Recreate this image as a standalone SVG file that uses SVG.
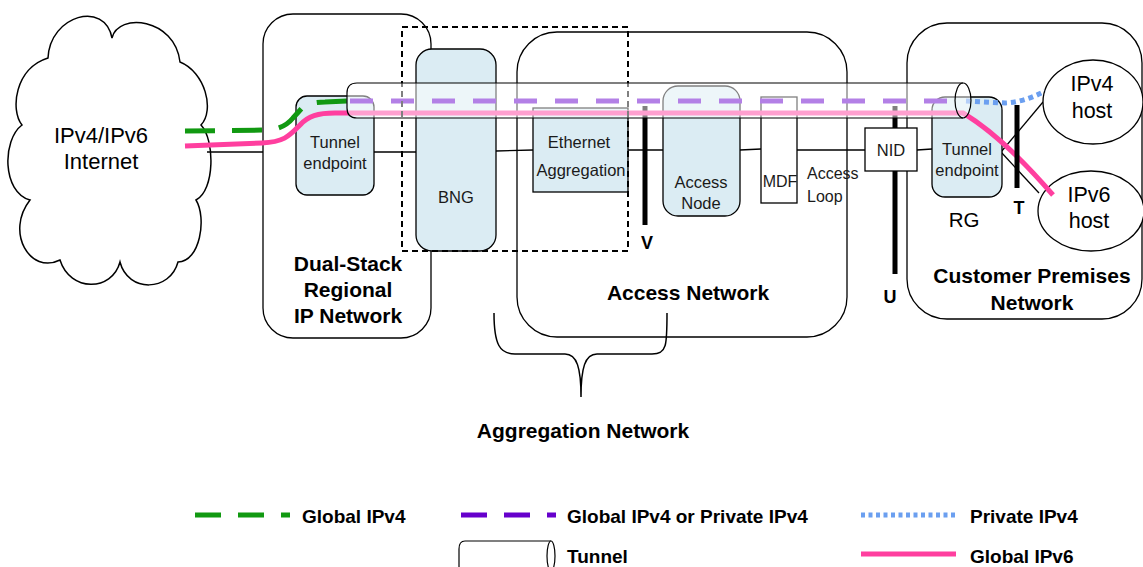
<svg xmlns="http://www.w3.org/2000/svg" width="1143" height="567" viewBox="0 0 1143 567">
  <style>
    .area { fill: none; stroke: #000; stroke-width: 1.3; }
    .dev { fill: #dbecf3; stroke: #000; stroke-width: 1.3; }
    .box { fill: #fff; stroke: #000; stroke-width: 1.3; }
    .wire { fill: none; stroke: #000; stroke-width: 1.3; }
    .bar { stroke: #000; stroke-width: 5; }
    .lbl { font-family: "Liberation Sans", Arial, sans-serif; font-size: 16.5px; fill: #1a1a1a; text-anchor: middle; }
    .big { font-family: "Liberation Sans", Arial, sans-serif; font-size: 21.5px; fill: #000; text-anchor: middle; }
    .hd { font-family: "Liberation Sans", Arial, sans-serif; font-size: 21px; font-weight: bold; fill: #000; text-anchor: middle; }
    .ref { font-family: "Liberation Sans", Arial, sans-serif; font-size: 18px; font-weight: bold; fill: #000; text-anchor: middle; }
    .key { font-family: "Liberation Sans", Arial, sans-serif; font-size: 19px; font-weight: bold; fill: #000; }
    .v4g { fill: none; stroke: #119911; stroke-width: 5; stroke-dasharray: 30 17; }
    .v4any { fill: none; stroke: #6600cc; stroke-width: 5; stroke-dasharray: 23 18; }
    .v4p { fill: none; stroke: #6b9ff0; stroke-width: 5; stroke-dasharray: 5 4; }
    .v6 { fill: none; stroke: #ff3f9f; stroke-width: 5; }
    .tube { fill: #fff; fill-opacity: 0.5; stroke: #000; stroke-width: 1.2; }
  </style>

  <!-- network domains -->
  <g id="regional-network">
    <rect class="area" x="263" y="14" width="168" height="324" rx="30"/>
    <text class="hd" x="348" y="271">Dual-Stack</text>
    <text class="hd" x="348" y="297">Regional</text>
    <text class="hd" x="348" y="323">IP Network</text>
  </g>
  <g id="access-network">
    <rect class="area" x="517" y="32" width="330" height="305" rx="40"/>
    <text class="hd" x="688" y="300">Access Network</text>
  </g>
  <g id="customer-premises">
    <rect class="area" x="907" y="23" width="235" height="296" rx="40"/>
    <text class="hd" x="1032" y="283">Customer Premises</text>
    <text class="hd" x="1032" y="310">Network</text>
  </g>

  <g id="internet">
    <path fill="#fff" stroke="#000" stroke-width="1.5" d="M48 58 C50 15 105 0 112 38 C118 12 175 18 180 62 C205 72 215 110 201 125 C215 140 215 190 196 200 C207 218 200 262 178 262 C170 292 128 293 120 262 C112 292 70 292 60 260 C30 275 5 232 30 200 C2 192 2 140 22 125 C10 110 15 68 48 58 Z"/>
    <text class="big" x="101" y="143" style="font-size:22px">IPv4/IPv6</text>
    <text class="big" x="101" y="169" style="font-size:22px">Internet</text>
  </g>

  <!-- plain links between devices -->
  <g id="connectors">
    <line class="wire" x1="207" y1="152" x2="263" y2="152"/>
    <line class="wire" x1="374" y1="152" x2="416" y2="152"/>
    <line class="wire" x1="496" y1="151" x2="533" y2="150"/>
    <line class="wire" x1="628" y1="150" x2="663" y2="150"/>
    <line class="wire" x1="740" y1="150" x2="761" y2="149"/>
    <line class="wire" x1="797" y1="150" x2="865" y2="150"/>
    <line class="wire" x1="917" y1="150" x2="932" y2="149"/>
    <line class="wire" x1="1001" y1="152" x2="1043" y2="102"/>
    <line class="wire" x1="1001" y1="152" x2="1039" y2="193"/>
  </g>

  <!-- reference points behind the devices -->
  <g id="ref-v">
    <line class="bar" x1="645" y1="106" x2="645" y2="225"/>
    <text class="ref" x="647" y="249">V</text>
  </g>
  <g id="ref-u">
    <line class="bar" x1="895" y1="106" x2="895" y2="274"/>
    <text class="ref" x="890" y="303">U</text>
  </g>

  <g id="tunnel-endpoint-net">
    <rect class="dev" x="296" y="96" width="78" height="99" rx="11"/>
    <text class="lbl" x="335" y="148">Tunnel</text>
    <text class="lbl" x="335" y="169">endpoint</text>
  </g>
  <g id="bng">
    <rect class="dev" x="416" y="49" width="80" height="202" rx="16"/>
    <text class="lbl" x="456" y="203">BNG</text>
  </g>
  <g id="ethernet-aggregation">
    <rect class="dev" x="533" y="108" width="95" height="84"/>
    <text class="lbl" x="579" y="148">Ethernet</text>
    <text class="lbl" x="581" y="176">Aggregation</text>
  </g>
  <g id="access-node">
    <rect class="dev" x="663" y="86" width="77" height="130" rx="15"/>
    <text class="lbl" x="701" y="188">Access</text>
    <text class="lbl" x="701" y="209">Node</text>
  </g>
  <g id="mdf">
    <rect class="box" x="761" y="97" width="36" height="106"/>
    <text class="lbl" x="780" y="187" style="font-size:16px">MDF</text>
    <text class="lbl" x="807" y="179" style="font-size:16px;text-anchor:start">Access</text>
    <text class="lbl" x="807" y="202" style="font-size:16px;text-anchor:start">Loop</text>
  </g>
  <g id="nid">
    <rect class="box" x="865" y="128" width="52" height="43"/>
    <text class="lbl" x="891" y="156">NID</text>
  </g>
  <g id="rg">
    <rect class="dev" x="932" y="97" width="70" height="100" rx="13"/>
    <text class="lbl" x="967" y="155">Tunnel</text>
    <text class="lbl" x="967" y="176">endpoint</text>
    <text class="big" x="964" y="227" style="font-size:20.5px">RG</text>
  </g>
  <g id="ipv4-host">
    <ellipse fill="#fff" stroke="#000" stroke-width="1.3" cx="1093" cy="102" rx="50" ry="42"/>
    <text class="big" x="1092" y="91">IPv4</text>
    <text class="big" x="1092" y="118">host</text>
  </g>
  <g id="ipv6-host">
    <ellipse fill="#fff" stroke="#000" stroke-width="1.3" cx="1091" cy="211" rx="53" ry="40"/>
    <text class="big" x="1089" y="202">IPv6</text>
    <text class="big" x="1089" y="228">host</text>
  </g>

  <!-- service paths -->
  <g id="flows">
    <path class="v4g" d="M185 131 L268 130 Q284 129 293 118 L302 108 Q309 102 325 102 L347 101"/>
    <path class="v4any" d="M350 101 H963"/>
    <path class="v6" d="M185 146 L262 143 C285 142 290 135 300 125 C308 116 318 113 335 113 L963 113 Q1003 137 1053 195"/>
    <path class="v4p" d="M966 101 L1005 103 Q1025 102 1045 91"/>
  </g>

  <g id="bng-scope">
    <rect fill="none" stroke="#000" stroke-width="2" stroke-dasharray="6 4" x="402" y="27" width="226" height="224"/>
  </g>

  <g id="tunnel">
    <path class="tube" d="M963 83 H357 Q347 83 347 93 V108 Q347 118 357 118 H963 A8 17.5 0 0 0 963 83 Z"/>
    <path fill="none" stroke="#000" stroke-width="1.2" d="M963 83 A8 17.5 0 0 0 963 118"/>
  </g>

  <g id="ref-t">
    <line class="bar" x1="1017" y1="105" x2="1017" y2="188"/>
    <text class="ref" x="1019" y="214">T</text>
  </g>

  <g id="aggregation-brace">
    <path fill="none" stroke="#000" stroke-width="1.5" d="M494 313 C494 345 500 354 515 354 L565 354 C577 354 581 368 581 397 C581 368 585 354 597 354 L652 354 C667 354 667 345 667 313"/>
    <text class="hd" x="583" y="438">Aggregation Network</text>
  </g>

  <!-- legend -->
  <g id="legend">
    <line class="v4g" x1="195" y1="515" x2="290" y2="515" style="stroke-dasharray:26 17"/>
    <text class="key" x="302" y="523">Global IPv4</text>
    <line class="v4any" x1="461" y1="515" x2="556" y2="515" style="stroke-dasharray:26 17"/>
    <text class="key" x="567" y="523">Global IPv4 or Private IPv4</text>
    <line class="v4p" x1="861" y1="515" x2="956" y2="515" style="stroke-dasharray:4 3.5"/>
    <text class="key" x="970" y="523">Private IPv4</text>
    <path fill="#fff" stroke="#000" stroke-width="1.2" d="M551 541 H465 Q459 541 459 549 V572 H551"/>
    <ellipse fill="#fff" stroke="#000" stroke-width="1.2" cx="551" cy="556" rx="4" ry="15"/>
    <text class="key" x="567" y="563">Tunnel</text>
    <line class="v6" x1="861" y1="554" x2="956" y2="554"/>
    <text class="key" x="970" y="563">Global IPv6</text>
  </g>
</svg>
